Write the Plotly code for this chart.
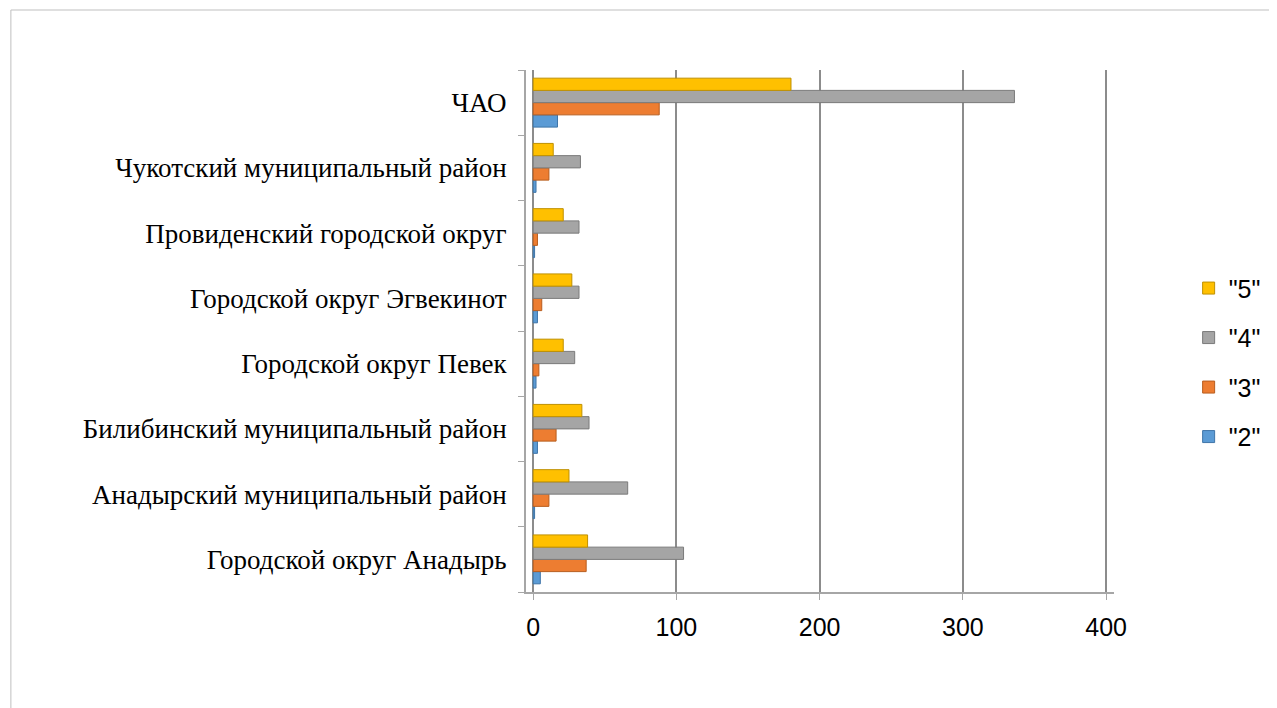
import plotly.graph_objects as go

categories = [
    "Городской округ Анадырь",
    "Анадырский муниципальный район",
    "Билибинский муниципальный район",
    "Городской округ Певек",
    "Городской округ Эгвекинот",
    "Провиденский городской округ",
    "Чукотский муниципальный район",
    "ЧАО",
]
series_names = ['"2"', '"3"', '"4"', '"5"']
vals_2 = [5, 1, 3, 2, 3, 1, 2, 17]
vals_3 = [37, 11, 16, 4, 6, 3, 11, 88]
vals_4 = [105, 66, 39, 29, 32, 32, 33, 336]
vals_5 = [38, 25, 34, 21, 27, 21, 14, 180]
x_ticks = [0, 100, 200, 300, 400]

colors = ["#5B9BD5", "#ED7D31", "#A5A5A5", "#FFC000"]
edges = ["#3F75A8", "#B85D1E", "#7A7A7A", "#BF9000"]

fig = go.Figure()
for i, (name, vals, c, e) in enumerate(zip(series_names, [vals_2, vals_3, vals_4, vals_5], colors, edges)):
    fig.add_trace(go.Bar(
        y=categories, x=vals, name=name, orientation="h",
        marker=dict(color=c, line=dict(color=e, width=1)),
        legendgroup=name, legendrank=100 - i,
    ))

L, T, PW, PH = 518, 62, 589, 522
fig.update_layout(
    width=1269, height=700,
    barmode="group", bargap=0.25, bargroupgap=0,
    plot_bgcolor="white", paper_bgcolor="white",
    margin=dict(l=L, r=1269 - L - PW, t=T, b=700 - T - PH),
    showlegend=True,
    legend=dict(
        x=1.125, y=0.44, xanchor="left", yanchor="middle",
        traceorder="grouped", tracegroupgap=14,
        font=dict(family="Liberation Sans, Arial", size=25, color="black"),
        itemwidth=30,
    ),
    xaxis=dict(
        range=[-5, 405.5], tickvals=x_ticks,
        showgrid=True, gridcolor="#8C8C8C", gridwidth=2,
        zeroline=False,
        showline=True, linecolor="#A6A6A6", linewidth=2,
        ticks="outside", ticklen=6, tickcolor="#A6A6A6",
        tickfont=dict(family="Liberation Sans, Arial", size=25, color="black"),
        ticklabelstandoff=6,
    ),
    yaxis=dict(
        type="category",
        showline=True, linecolor="#A6A6A6", linewidth=2,
        ticks="outside", ticklen=6, tickcolor="#A6A6A6",
        tickson="boundaries",
        tickfont=dict(family="Liberation Serif, Times New Roman", size=27, color="black"),
        ticklabelstandoff=12,
    ),
    shapes=[
        dict(type="line", xref="paper", yref="paper",
             x0=(2 - L) / PW, x1=(1269 - L) / PW,
             y0=(T + PH - 2) / PH, y1=(T + PH - 2) / PH,
             line=dict(color="#BFBFBF", width=1)),
        dict(type="line", xref="paper", yref="paper",
             x0=(2 - L) / PW, x1=(2 - L) / PW,
             y0=(T + PH - 2) / PH, y1=(T + PH - 700) / PH,
             line=dict(color="#BFBFBF", width=1)),
    ],
)

fig.write_html("out.html")
